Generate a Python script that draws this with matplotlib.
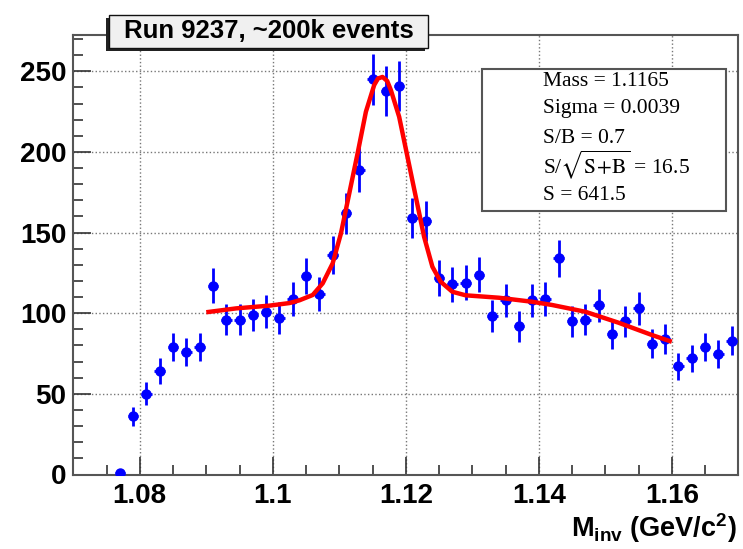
import numpy as np
import matplotlib
matplotlib.use("Agg")
import matplotlib.pyplot as plt
from matplotlib.patches import Rectangle
from matplotlib.ticker import MultipleLocator, FuncFormatter

# Histogram: bin centres and counts (bin width 0.002 GeV/c^2)
bin_centers = np.arange(1.077, 1.1695, 0.002)
counts = [1, 36, 50, 64, 79, 76, 79, 117, 96, 96,
          99, 101, 97, 109, 123, 112, 136, 162, 189, 245,
          238, 241, 159, 157, 122, 118, 119, 124, 98, 108,
          92, 108, 109, 134, 95, 96, 105, 87, 95, 103,
          81, 84, 67, 72, 79, 75, 83]

# Fit curve
fit_x = [1.090, 1.0945, 1.0995, 1.1025, 1.104, 1.106, 1.1075, 1.109, 1.11025,
         1.1115, 1.11275, 1.114, 1.11525, 1.1158, 1.1165, 1.1172, 1.11775,
         1.119, 1.12025, 1.1215, 1.12275, 1.124, 1.12525, 1.127, 1.129,
         1.134, 1.139, 1.142, 1.147, 1.152, 1.157, 1.160]
fit_y = [100.6, 103.0, 104.7, 106.3, 108.0, 111.3, 118.5, 130.9, 149.5,
         174.3, 199.1, 224.9, 241.5, 245.5, 246.5, 244.0, 238.4,
         221.8, 197.0, 172.2, 147.4, 128.8, 119.5, 113.3, 111.1,
         109.6, 107.1, 105.1, 100.9, 94.1, 86.5, 82.3]

title = "Run 9237, ~200k events"
stats_lines = ["Mass = 1.1165", "Sigma = 0.0039", "S/B = 0.7",
               r"S/$\sqrt{\mathrm{S\!+\!B}}$ = 16.5", "S = 641.5"]

plt.rcParams['font.family'] = ['Liberation Sans', 'DejaVu Sans']
plt.rcParams['mathtext.fontset'] = 'custom'
plt.rcParams['mathtext.rm'] = 'Liberation Sans:bold'
plt.rcParams['mathtext.bf'] = 'Liberation Sans:bold'
plt.rcParams['mathtext.it'] = 'Liberation Sans:bold'

W, H = 743, 549
fig = plt.figure(figsize=(W / 100, H / 100), dpi=100)

def fx(px):
    return px / W

def fy(py):
    return 1 - py / H

ax = fig.add_axes([fx(73.3), fy(474.5), fx(738.3) - fx(73.3), fy(35) - fy(474.5)])

ax.grid(True, which='major', linestyle=':', color='#777777', lw=1.0)
ax.set_axisbelow(True)

ax.errorbar(bin_centers, counts, yerr=np.sqrt(counts), xerr=0.0008,
            fmt='o', color='#0000ff', ms=6.5, elinewidth=2, capsize=0,
            zorder=3)
ax.plot(fit_x, fit_y, color='#ff0000', lw=3.2, zorder=4,
        solid_joinstyle='round', solid_capstyle='butt')

ax.set_xlim(1.07, 1.17)
ax.set_ylim(0, 272.5)
ax.xaxis.set_major_locator(MultipleLocator(0.02))
ax.xaxis.set_minor_locator(MultipleLocator(0.005))
ax.yaxis.set_major_locator(MultipleLocator(50))
ax.yaxis.set_minor_locator(MultipleLocator(10))
ax.xaxis.set_major_formatter(FuncFormatter(lambda v, p: '%g' % round(v, 4)))
ax.yaxis.set_major_formatter(FuncFormatter(lambda v, p: '%d' % v))

ax.tick_params(which='both', direction='in', top=False, right=False,
               color='#333333', width=1.2)
ax.tick_params(which='major', length=13, labelsize=20)
ax.tick_params(which='minor', length=7)
ax.tick_params(axis='x', which='major', pad=6)
ax.tick_params(axis='y', which='major', pad=5)
for lab in ax.get_xticklabels() + ax.get_yticklabels():
    lab.set_fontweight('bold')
for s in ax.spines.values():
    s.set_color('#555555')
    s.set_linewidth(1.5)

# x axis title
fig.text(fx(737), fy(528), r"M$_{\mathrm{inv}}$ (GeV/c$^{2}$)", ha='right',
         va='center', fontsize=19.5, fontweight='bold')

# title box with shadow
fig.patches.append(Rectangle((fx(106), fy(51)), fx(425) - fx(106), fy(18) - fy(51),
                             transform=fig.transFigure, facecolor='#222222',
                             edgecolor='none', zorder=5))
fig.patches.append(Rectangle((fx(109), fy(48)), fx(428) - fx(109), fy(15) - fy(48),
                             transform=fig.transFigure, facecolor='#f0f0f0',
                             edgecolor='#111111', lw=1.0, zorder=6))
fig.text(fx(268.5), fy(31), title, ha='center', va='center', fontsize=18.5,
         fontweight='bold', zorder=7)

# stats box
ax.add_patch(Rectangle((fx(482.3), fy(210.7)), fx(725.7) - fx(482.3), fy(69) - fy(210.7),
                       transform=fig.transFigure, facecolor='white',
                       edgecolor='#555555', lw=1.5, zorder=6))
line_y = [82, 109, 138, 165, 195]
for txt, yy in zip(stats_lines, line_y):
    fig.text(fx(543), fy(yy), txt, ha='left', va='center', fontsize=15.5,
             fontweight='normal', family=['Liberation Serif'],
             math_fontfamily='stix', zorder=7)

fig.savefig("out.png", dpi=100)
